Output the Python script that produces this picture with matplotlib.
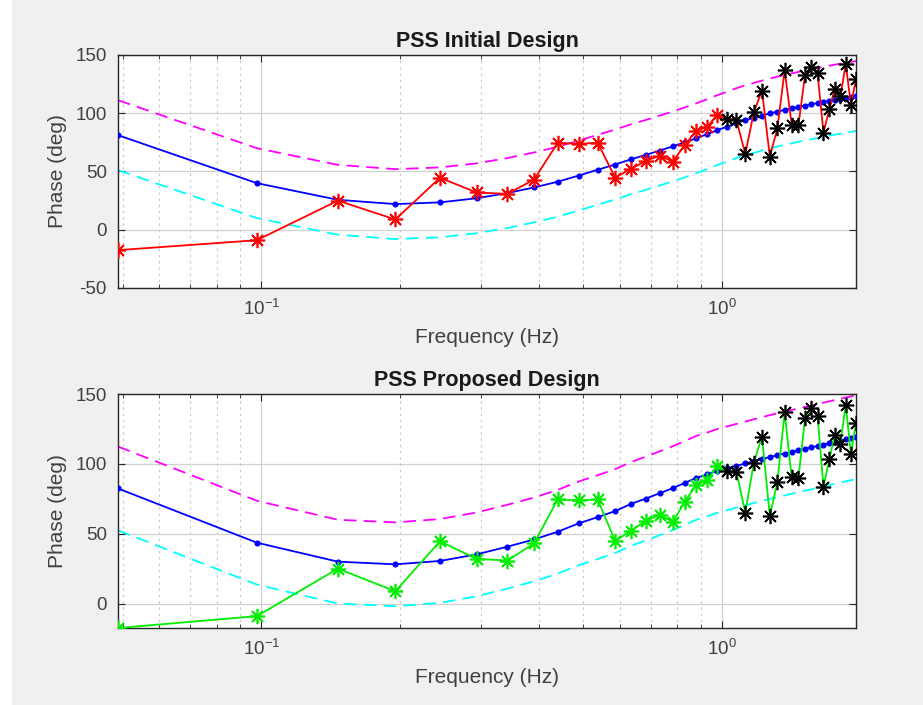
import matplotlib
matplotlib.use("Agg")
import matplotlib.pyplot as plt
from matplotlib.patches import Rectangle
from matplotlib.ticker import LogLocator, NullFormatter

plt.rcParams['font.family'] = ['Liberation Sans', 'DejaVu Sans']
plt.rcParams['axes.unicode_minus'] = False

# frequency bins (Hz)
freq_hz = [0.0488, 0.0977, 0.1465, 0.1953, 0.2441, 0.2930, 0.3418, 0.3906,
           0.4395, 0.4883, 0.5371, 0.5859, 0.6348, 0.6836, 0.7324, 0.7813,
           0.8301, 0.8789, 0.9277, 0.9766, 1.0254, 1.0742, 1.1230, 1.1719,
           1.2207, 1.2695, 1.3184, 1.3672, 1.4160, 1.4648, 1.5137, 1.5625,
           1.6113, 1.6602, 1.7090, 1.7578, 1.8066, 1.8555, 1.9043, 1.9531]

# measured phase (deg), same in both panels
measured = [-17.5, -9.0, 25.0, 8.8, 44.6, 32.0, 30.8, 43.0, 74.5, 73.8,
            74.5, 44.8, 52.3, 59.2, 63.5, 58.5, 72.8, 85.0, 88.2, 98.5,
            94.8, 94.3, 65.0, 100.8, 119.5, 62.8, 87.0, 137.0, 90.3, 89.8,
            132.5, 140.0, 134.5, 83.3, 103.3, 121.0, 114.4, 142.3, 107.2, 129.2]

# PSS phase, initial design
initial = [81.2, 40.0, 25.7, 22.0, 23.5, 27.0, 31.5, 36.3, 41.2, 46.5,
           51.5, 56.0, 60.5, 64.3, 68.0, 71.5, 75.0, 78.5, 82.0, 85.5,
           88.5, 91.5, 94.0, 96.0, 98.0, 99.8, 101.4, 102.9, 104.2, 105.5,
           106.6, 107.7, 108.7, 109.8, 110.8, 111.7, 112.5, 113.3, 114.1, 114.8]

# PSS phase, proposed design
proposed = [82.4, 43.6, 30.0, 28.1, 30.5, 35.2, 40.7, 45.9, 51.4, 57.4,
            61.9, 66.2, 71.4, 75.2, 79.0, 82.6, 86.4, 90.0, 92.4, 95.0,
            96.8, 98.6, 100.3, 101.9, 103.4, 104.9, 106.2, 107.4, 108.6, 109.7,
            110.8, 111.8, 112.8, 113.8, 114.8, 115.7, 116.6, 117.5, 118.3, 119.2]

band = 30  # +/- deg tolerance around design curve
split_hz = 1.0  # markers above this frequency drawn black

titles = ['PSS Initial Design', 'PSS Proposed Design']
designs = [initial, proposed]
meas_colors = ['#ff0000', '#00ee00']
ylims = [(-50, 150), (min(measured), 150)]
yticks = [[-50, 0, 50, 100, 150], [0, 50, 100, 150]]

fig = plt.figure(figsize=(9.23, 7.05), dpi=100, facecolor='#f0f0f0')
fig.patches.append(Rectangle((0, 0), 12 / 923, 1, transform=fig.transFigure,
                             facecolor='white', edgecolor='none', zorder=-1))

boxes = [[0.1278, 0.5915, 0.7996, 0.3305], [0.1278, 0.1092, 0.7996, 0.3319]]

for i in range(2):
    ax = fig.add_axes(boxes[i])
    des = designs[i]
    upper = [v + band for v in des]
    lower = [v - band for v in des]

    ax.plot(freq_hz, upper, color='#ff00ff', ls=(0, (7, 4)), lw=1.3, zorder=2)
    ax.plot(freq_hz, lower, color='#00ffff', ls=(0, (7, 4)), lw=1.3, zorder=2)
    ax.plot(freq_hz, des, color='#0000ff', lw=1.3, marker='o', ms=3.4,
            mec='#0000ff', mfc='#0000ff', zorder=3)

    c = meas_colors[i]
    ax.plot(freq_hz, measured, color=c, lw=1.3, zorder=4)
    lo_f = [f for f in freq_hz if f <= split_hz]
    lo_v = [v for f, v in zip(freq_hz, measured) if f <= split_hz]
    hi_f = [f for f in freq_hz if f > split_hz]
    hi_v = [v for f, v in zip(freq_hz, measured) if f > split_hz]
    ax.plot(lo_f, lo_v, ls='none', marker=(8, 2, 0), ms=11, mec=c, mew=1.2, zorder=5)
    ax.plot(hi_f, hi_v, ls='none', marker=(8, 2, 0), ms=11, mec='black', mew=1.2, zorder=5)

    ax.set_xscale('log')
    ax.set_xlim(freq_hz[0], freq_hz[-1])
    ax.set_ylim(*ylims[i])
    ax.set_yticks(yticks[i])
    ax.xaxis.set_major_locator(LogLocator(base=10))
    ax.xaxis.set_minor_locator(LogLocator(base=10, subs=range(2, 10)))
    ax.xaxis.set_minor_formatter(NullFormatter())

    ax.grid(True, which='major', color='#d0d0d0', lw=0.9, ls='-')
    ax.grid(True, which='minor', axis='x', color='#cccccc', lw=0.9, ls=(0, (2, 3)))
    ax.set_axisbelow(True)

    ax.tick_params(which='both', direction='in', top=True, right=True,
                   colors='#262626', labelcolor='#404040', labelsize=13.5)
    ax.tick_params(which='major', length=5, width=0.8, pad=8)
    ax.tick_params(which='minor', length=3, width=0.6)
    for s in ax.spines.values():
        s.set_color('#262626')
        s.set_linewidth(1.0)

    ax.set_xlabel('Frequency (Hz)', fontsize=15, color='#404040', labelpad=6)
    ax.set_ylabel('Phase (deg)', fontsize=15, color='#404040', labelpad=6)
    ax.set_title(titles[i], fontsize=15.5, fontweight='bold', color='#1a1a1a', pad=6)

fig.savefig('out.png', dpi=100, facecolor=fig.get_facecolor())
